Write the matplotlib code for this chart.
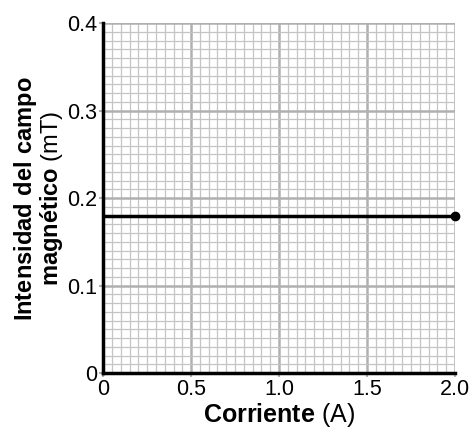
import matplotlib
matplotlib.use("Agg")
import matplotlib.pyplot as plt
import numpy as np
from matplotlib.ticker import MultipleLocator

plt.rcParams['font.family'] = ['Liberation Sans', 'DejaVu Sans']
plt.rcParams['mathtext.fontset'] = 'custom'
plt.rcParams['mathtext.rm'] = 'Liberation Sans'
plt.rcParams['mathtext.bf'] = 'Liberation Sans:bold'

current = [0.0, 2.0]
field = [0.18, 0.18]
xticks = [0, 0.5, 1.0, 1.5, 2.0]
xticklabels = ["0", "0.5", "1.0", "1.5", "2.0"]
yticks = [0, 0.1, 0.2, 0.3, 0.4]
yticklabels = ["0", "0.1", "0.2", "0.3", "0.4"]

fig = plt.figure(figsize=(4.71, 4.29), dpi=100)
ax = fig.add_axes([0.219, 0.130, 0.747, 0.816])
ax.set_xlim(0, 2.0)
ax.set_ylim(0, 0.4)

ax.xaxis.set_minor_locator(MultipleLocator(0.05))
ax.yaxis.set_minor_locator(MultipleLocator(0.01))
ax.grid(which='minor', color='#c4c4c4', linewidth=0.9)
ax.grid(which='major', color='#b0b0b0', linewidth=1.8)
ax.set_axisbelow(True)

ax.plot(current, field, color='black', linewidth=2.5, zorder=3)
ax.plot(current[-1:], field[-1:], 'o', color='black', markersize=6, zorder=4, clip_on=False)

ax.set_xticks(xticks)
ax.set_xticklabels(xticklabels, fontsize=15.5)
ax.set_yticks(yticks)
ax.set_yticklabels(yticklabels, fontsize=15.5)
ax.tick_params(which='major', length=3, color='#b0b0b0', width=1.5, pad=1)
ax.tick_params(which='minor', length=0)

for s in ['top', 'right']:
    ax.spines[s].set_visible(False)
for s in ['left', 'bottom']:
    ax.spines[s].set_linewidth(2.5)
    ax.spines[s].set_color('black')

ax.set_xlabel(r"$\mathbf{Corriente}$ (A)", fontsize=18, labelpad=1)
ax.set_ylabel("$\\mathbf{Intensidad\\ del\\ campo}$\n$\\mathbf{magnético}$ (mT)",
              fontsize=17, labelpad=2, linespacing=0.95)

fig.savefig("out.png", dpi=100)
